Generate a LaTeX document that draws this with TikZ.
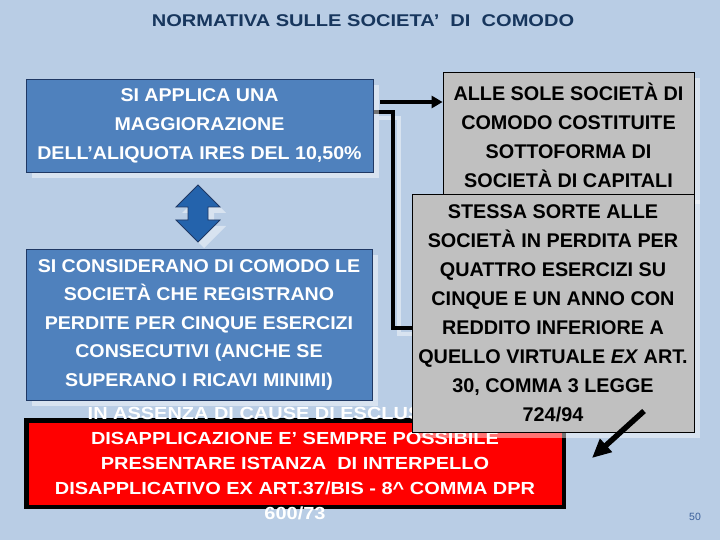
\documentclass[tikz,border=0pt]{standalone}
\usepackage{fontspec}
\setmainfont{Liberation Sans}
\newfontfamily\fTitle{Liberation Sans}[FakeStretch=1.18]
\newfontfamily\fRed{Liberation Sans}[FakeStretch=1.14]
\newfontfamily\fBlue{Liberation Sans}[FakeStretch=1.06]
\usetikzlibrary{shadows,arrows.meta}
\definecolor{bgc}{HTML}{B9CDE5}
\definecolor{boxblue}{HTML}{4F81BD}
\definecolor{navyb}{HTML}{1F3864}
\definecolor{greyfill}{HTML}{C0C0C0}
\definecolor{arrblue}{HTML}{2463AC}
\definecolor{titlec}{HTML}{17365D}
\definecolor{pagec}{HTML}{3A5F9A}
\pgfdeclarelayer{back}
\pgfdeclarelayer{conn}
\pgfsetlayers{back,conn,main}
\begin{document}
\begin{tikzpicture}[x=1pt,y=-1pt,
  shadowed/.style={drop shadow={shadow xshift=6pt,shadow yshift=-6pt,fill=white,opacity=0.45}},
  bluebox/.style={shadowed, draw=navyb, line width=0.8pt, fill=boxblue, text=white, align=center, inner sep=0pt, font=\fBlue\bfseries\fontsize{18.5}{29}\selectfont},
  greybox/.style={shadowed, draw=black, line width=0.8pt, fill=greyfill, text=black, align=center, inner sep=0pt, font=\bfseries\fontsize{19.8}{29}\selectfont},
  redbox/.style={draw=black, line width=4.5pt, fill=red, inner sep=0pt},
  redtext/.style={text=white, align=center, inner sep=0pt, font=\fRed\bfseries\fontsize{17.5}{25}\selectfont},
  connline/.style={line width=4pt, black},
  connshadow/.style={line width=4pt, white, opacity=0.45},
  tipsmall/.style={-{Triangle[length=11pt,width=12pt]}},
  tipbig/.style={-{Triangle[length=19pt,width=17pt]}}
]
\useasboundingbox (0,0) rectangle (720,540);
\begin{pgfonlayer}{back}
\fill[bgc] (0,0) rectangle (720,540);
\end{pgfonlayer}

% title
\node[font=\fTitle\bfseries\fontsize{17}{20}\selectfont, text=titlec, inner sep=0pt] (title) at (363,21) {NORMATIVA SULLE SOCIETA’\ \ DI\ \ COMODO};

% boxes
\node[bluebox, minimum width=347pt, minimum height=93pt] (b1) at (199.5,125.5)
  {SI APPLICA UNA\\MAGGIORAZIONE\\DELL’ALIQUOTA IRES DEL 10,50\%};
\node[greybox, minimum width=251pt, minimum height=126pt] (g2) at (568.5,135)
  {ALLE SOLE SOCIETÀ DI\\COMODO COSTITUITE\\SOTTOFORMA DI\\SOCIETÀ DI CAPITALI};

% double arrow
\filldraw[shadowed, fill=arrblue, draw=navyb, line width=0.8pt]
  (198,185) -- (220,207) -- (208,207) -- (208,220) -- (220,220) -- (198,242)
  -- (176,220) -- (188,220) -- (188,207) -- (176,207) -- cycle;

\node[bluebox, minimum width=346pt, minimum height=151pt, font=\fBlue\bfseries\fontsize{18.5}{28.5}\selectfont] (b2) at (199,324.5)
  {SI CONSIDERANO DI COMODO LE\\SOCIETÀ CHE REGISTRANO\\PERDITE PER CINQUE ESERCIZI\\CONSECUTIVI (ANCHE SE\\SUPERANO I RICAVI MINIMI)};

% red box
\node[redbox, minimum width=537.5pt, minimum height=86.5pt] (red) at (295,463.5) {};
\node[redtext] (redtxt) at (295,463.5)
  {IN ASSENZA DI CAUSE DI ESCLUSIONE LA\\DISAPPLICAZIONE E’ SEMPRE POSSIBILE\\PRESENTARE ISTANZA\ \ DI INTERPELLO\\DISAPPLICATIVO EX ART.37/BIS - 8\textasciicircum\ COMMA DPR\\600/73};

\node[greybox, minimum width=282pt, minimum height=238pt] (g3) at (553,313)
  {STESSA SORTE ALLE\\SOCIETÀ IN PERDITA PER\\QUATTRO ESERCIZI SU\\CINQUE E UN ANNO CON\\REDDITO INFERIORE A\\QUELLO VIRTUALE \textit{EX} ART.\\30, COMMA 3 LEGGE\\724/94};

% connectors
\coordinate (s1) at ([yshift=23.5pt]b1.east);
\draw[connline, tipsmall, shorten <=7pt] (s1) -- (s1 -| g2.west);

\coordinate (s2) at ([yshift=13.5pt]b1.east);
\coordinate (e2) at ([yshift=-15pt]g3.west);
\begin{pgfonlayer}{conn}
\draw[connshadow] ([shift={(6,6)}]s2) -- ++(20,0) |- ([shift={(6,6)}]e2);
\draw[connline] (s2) -- ++(20,0) |- (e2);
\end{pgfonlayer}

\coordinate (dtail) at (644,411);
\coordinate (dhead) at (592,458);
\draw[line width=5.5pt, tipbig] (dtail) -- (dhead);

% page number
\node[font=\fontsize{10.5}{12}\selectfont, text=pagec, inner sep=0pt] (pnum) at (695,517) {50};
\end{tikzpicture}
\end{document}
